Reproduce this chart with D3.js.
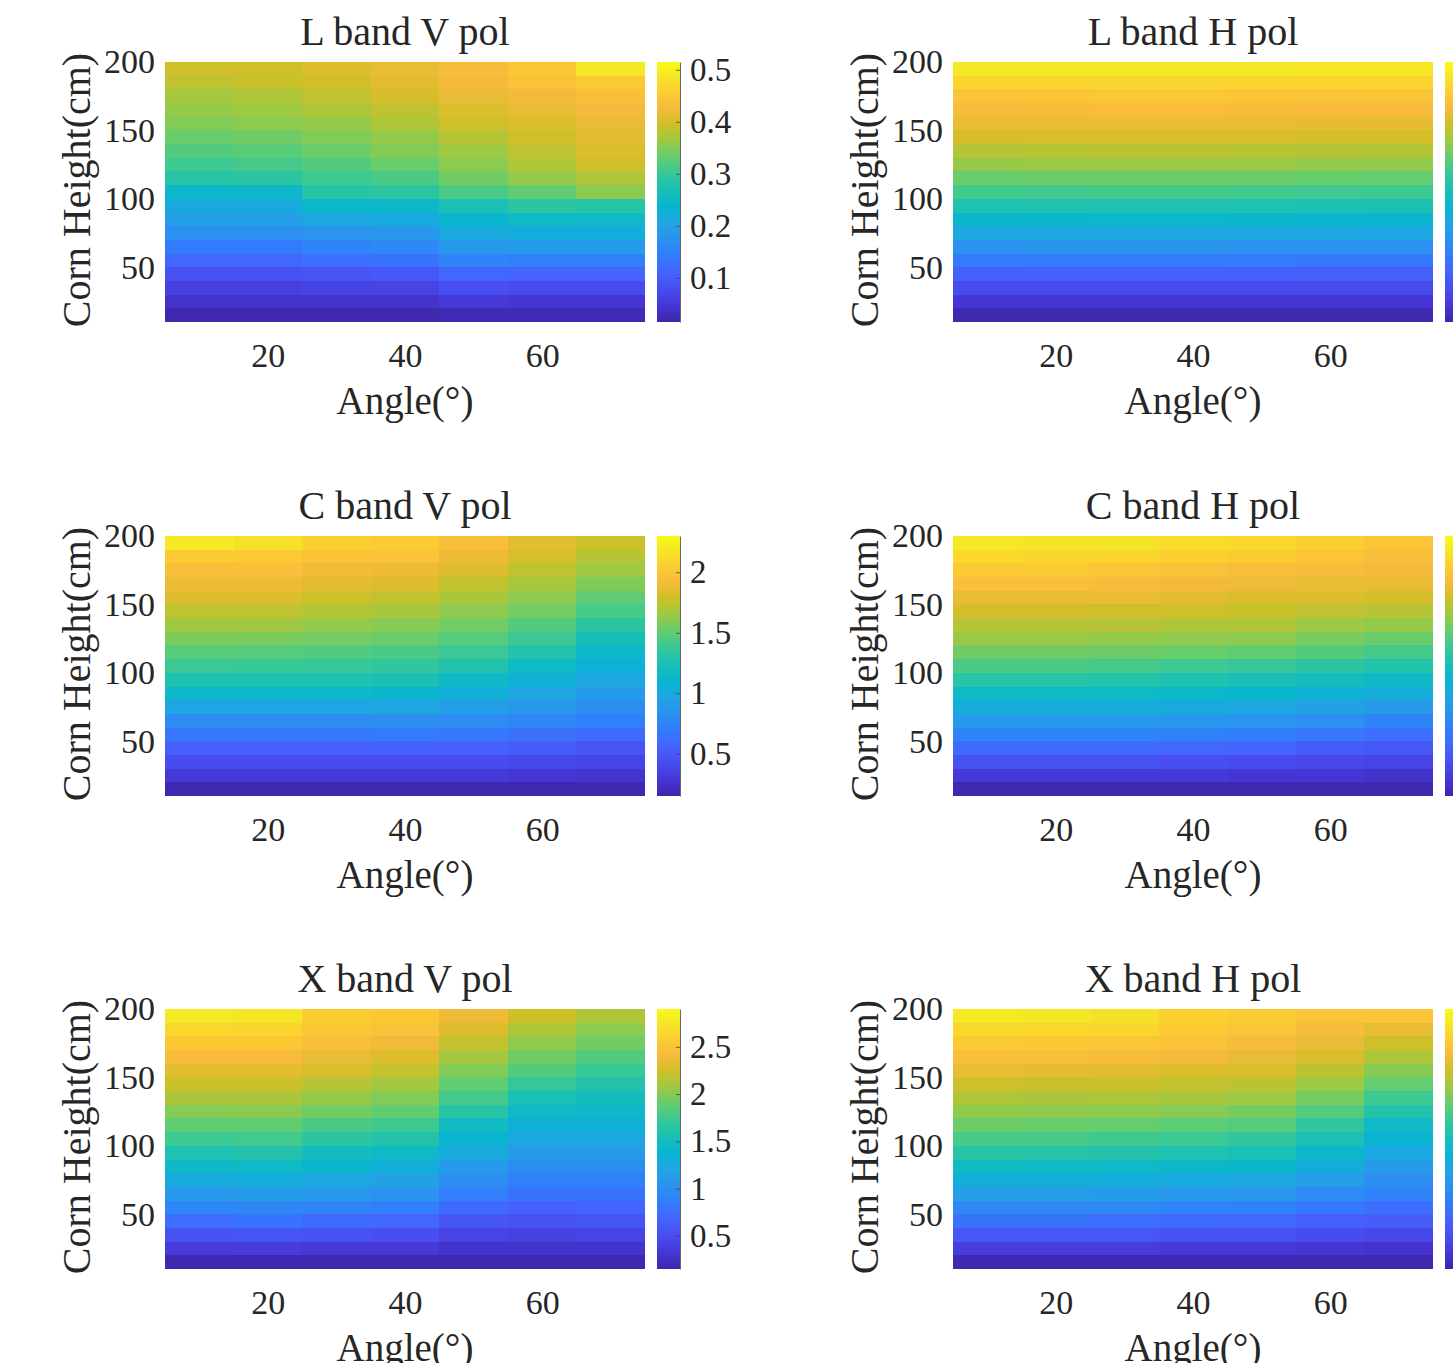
<!DOCTYPE html>
<html>
<head>
<meta charset="utf-8">
<script src="https://cdn.jsdelivr.net/npm/d3@7"></script>
<style>
  body { margin: 0; background: #ffffff; }
  svg { display: block; }
  text { font-family: "Liberation Serif", "Times New Roman", serif; fill: #262626; }
</style>
</head>
<body>
<div id="chart"></div>
<script>
// grid of the simulations
const angles = [10, 20, 30, 40, 50, 60, 70];
const heights = [15, 25, 35, 45, 55, 65, 75, 85, 95, 105, 115, 125, 135, 145, 155, 165, 175, 185, 195];

// one inner array per angle, values listed from 15 cm up to 195 cm
const lbandV = [
  [0.02, 0.04, 0.06, 0.085, 0.115, 0.14, 0.17, 0.195, 0.215, 0.245, 0.285, 0.305, 0.32, 0.335, 0.35, 0.36, 0.37, 0.385, 0.395],
  [0.02, 0.04, 0.06, 0.085, 0.115, 0.14, 0.17, 0.195, 0.215, 0.245, 0.29, 0.31, 0.325, 0.34, 0.355, 0.365, 0.375, 0.39, 0.395],
  [0.02, 0.04, 0.065, 0.09, 0.125, 0.155, 0.18, 0.21, 0.245, 0.285, 0.305, 0.32, 0.335, 0.35, 0.36, 0.375, 0.385, 0.395, 0.405],
  [0.02, 0.04, 0.065, 0.095, 0.13, 0.16, 0.185, 0.215, 0.245, 0.29, 0.315, 0.335, 0.35, 0.36, 0.375, 0.385, 0.4, 0.41, 0.415],
  [0.025, 0.05, 0.08, 0.115, 0.155, 0.185, 0.215, 0.24, 0.27, 0.315, 0.34, 0.355, 0.365, 0.38, 0.395, 0.405, 0.415, 0.425, 0.43],
  [0.025, 0.045, 0.075, 0.11, 0.15, 0.19, 0.22, 0.25, 0.29, 0.33, 0.36, 0.375, 0.385, 0.395, 0.405, 0.415, 0.425, 0.44, 0.445],
  [0.025, 0.045, 0.075, 0.11, 0.15, 0.19, 0.22, 0.25, 0.285, 0.355, 0.375, 0.395, 0.405, 0.41, 0.415, 0.425, 0.435, 0.45, 0.49]
];
const lbandH = [
  [0.024, 0.044, 0.068, 0.092, 0.12, 0.148, 0.176, 0.2, 0.228, 0.254, 0.276, 0.296, 0.312, 0.328, 0.34, 0.352, 0.364, 0.38, 0.4],
  [0.024, 0.044, 0.068, 0.093, 0.121, 0.149, 0.177, 0.201, 0.229, 0.255, 0.277, 0.297, 0.313, 0.329, 0.341, 0.353, 0.365, 0.38, 0.4],
  [0.024, 0.044, 0.068, 0.093, 0.121, 0.149, 0.177, 0.202, 0.229, 0.256, 0.278, 0.298, 0.314, 0.33, 0.342, 0.354, 0.366, 0.381, 0.4],
  [0.024, 0.044, 0.068, 0.093, 0.121, 0.149, 0.177, 0.202, 0.229, 0.256, 0.278, 0.298, 0.314, 0.33, 0.342, 0.354, 0.366, 0.381, 0.4],
  [0.024, 0.044, 0.068, 0.092, 0.12, 0.148, 0.176, 0.201, 0.228, 0.255, 0.277, 0.297, 0.313, 0.329, 0.341, 0.353, 0.365, 0.38, 0.4],
  [0.024, 0.044, 0.067, 0.091, 0.119, 0.147, 0.175, 0.2, 0.227, 0.253, 0.275, 0.295, 0.311, 0.327, 0.339, 0.351, 0.363, 0.379, 0.399],
  [0.024, 0.044, 0.067, 0.091, 0.118, 0.146, 0.174, 0.199, 0.226, 0.252, 0.274, 0.294, 0.31, 0.326, 0.338, 0.35, 0.362, 0.378, 0.398]
];
const cbandV = [
  [0.17, 0.3, 0.41, 0.54, 0.67, 0.8, 0.97, 1.14, 1.27, 1.39, 1.48, 1.58, 1.66, 1.74, 1.83, 1.89, 1.96, 2.04, 2.19],
  [0.17, 0.3, 0.41, 0.54, 0.67, 0.8, 0.97, 1.14, 1.27, 1.38, 1.47, 1.57, 1.66, 1.74, 1.83, 1.89, 1.96, 2.02, 2.15],
  [0.17, 0.3, 0.41, 0.54, 0.67, 0.8, 0.97, 1.14, 1.27, 1.38, 1.46, 1.55, 1.63, 1.71, 1.78, 1.85, 1.91, 1.98, 2.06],
  [0.17, 0.3, 0.41, 0.54, 0.69, 0.82, 0.97, 1.12, 1.25, 1.35, 1.44, 1.53, 1.6, 1.68, 1.75, 1.83, 1.89, 1.98, 2.04],
  [0.17, 0.3, 0.41, 0.54, 0.67, 0.8, 0.92, 1.05, 1.16, 1.29, 1.39, 1.47, 1.55, 1.61, 1.68, 1.75, 1.83, 1.89, 1.96],
  [0.17, 0.28, 0.39, 0.52, 0.64, 0.77, 0.88, 0.97, 1.07, 1.16, 1.29, 1.39, 1.46, 1.55, 1.61, 1.68, 1.74, 1.81, 1.85],
  [0.17, 0.26, 0.365, 0.47, 0.6, 0.73, 0.82, 0.9, 0.99, 1.07, 1.14, 1.23, 1.33, 1.43, 1.5, 1.58, 1.66, 1.72, 1.78]
];
const cbandH = [
  [0.12, 0.24, 0.38, 0.52, 0.66, 0.8, 0.92, 1.04, 1.18, 1.3, 1.4, 1.49, 1.56, 1.64, 1.7, 1.78, 1.84, 1.92, 2.0],
  [0.12, 0.24, 0.38, 0.52, 0.66, 0.8, 0.92, 1.04, 1.18, 1.3, 1.4, 1.49, 1.56, 1.64, 1.7, 1.78, 1.84, 1.91, 1.98],
  [0.12, 0.24, 0.38, 0.52, 0.66, 0.8, 0.92, 1.04, 1.16, 1.28, 1.39, 1.48, 1.56, 1.62, 1.7, 1.76, 1.82, 1.9, 1.98],
  [0.12, 0.24, 0.36, 0.5, 0.64, 0.78, 0.9, 1.02, 1.14, 1.26, 1.38, 1.47, 1.54, 1.62, 1.68, 1.74, 1.8, 1.88, 1.94],
  [0.12, 0.22, 0.34, 0.48, 0.62, 0.76, 0.88, 1.0, 1.12, 1.24, 1.36, 1.46, 1.54, 1.6, 1.66, 1.72, 1.78, 1.86, 1.92],
  [0.12, 0.22, 0.32, 0.44, 0.58, 0.72, 0.84, 0.96, 1.08, 1.2, 1.32, 1.42, 1.5, 1.58, 1.66, 1.7, 1.76, 1.82, 1.88],
  [0.12, 0.2, 0.3, 0.42, 0.54, 0.66, 0.8, 0.92, 1.04, 1.16, 1.28, 1.38, 1.48, 1.56, 1.64, 1.7, 1.74, 1.78, 1.82]
];
const xbandV = [
  [0.18, 0.36, 0.54, 0.75, 0.93, 1.09, 1.25, 1.42, 1.58, 1.74, 1.88, 2.0, 2.12, 2.23, 2.32, 2.43, 2.54, 2.65, 2.76],
  [0.18, 0.37, 0.56, 0.78, 0.95, 1.11, 1.28, 1.44, 1.61, 1.76, 1.88, 2.01, 2.12, 2.23, 2.32, 2.43, 2.54, 2.63, 2.74],
  [0.18, 0.34, 0.54, 0.73, 0.92, 1.09, 1.22, 1.39, 1.5, 1.66, 1.8, 1.94, 2.05, 2.16, 2.27, 2.35, 2.46, 2.52, 2.57],
  [0.18, 0.34, 0.51, 0.7, 0.87, 1.03, 1.17, 1.31, 1.44, 1.61, 1.75, 1.88, 1.99, 2.1, 2.2, 2.3, 2.38, 2.49, 2.54],
  [0.18, 0.29, 0.43, 0.56, 0.73, 0.87, 1.0, 1.11, 1.25, 1.36, 1.47, 1.64, 1.77, 1.88, 1.99, 2.1, 2.2, 2.3, 2.38],
  [0.18, 0.29, 0.4, 0.54, 0.65, 0.78, 0.89, 1.0, 1.11, 1.22, 1.33, 1.44, 1.55, 1.7, 1.83, 1.94, 2.03, 2.13, 2.24],
  [0.18, 0.29, 0.43, 0.56, 0.67, 0.78, 0.89, 1.0, 1.11, 1.22, 1.33, 1.42, 1.5, 1.61, 1.72, 1.83, 1.94, 2.02, 2.13]
];
const xbandH = [
  [0.13, 0.3, 0.48, 0.68, 0.83, 1.0, 1.15, 1.29, 1.45, 1.59, 1.71, 1.81, 1.9, 2.0, 2.1, 2.2, 2.28, 2.38, 2.48],
  [0.13, 0.3, 0.48, 0.68, 0.83, 1.0, 1.15, 1.29, 1.44, 1.58, 1.7, 1.8, 1.89, 1.99, 2.09, 2.19, 2.27, 2.37, 2.47],
  [0.13, 0.3, 0.48, 0.65, 0.83, 0.98, 1.13, 1.28, 1.43, 1.56, 1.69, 1.8, 1.9, 1.98, 2.08, 2.18, 2.25, 2.35, 2.43],
  [0.13, 0.28, 0.45, 0.63, 0.8, 0.95, 1.1, 1.25, 1.4, 1.54, 1.66, 1.78, 1.88, 1.96, 2.05, 2.15, 2.23, 2.28, 2.33],
  [0.13, 0.28, 0.45, 0.6, 0.78, 0.93, 1.08, 1.23, 1.38, 1.5, 1.63, 1.74, 1.85, 1.94, 2.03, 2.1, 2.18, 2.25, 2.3],
  [0.13, 0.25, 0.4, 0.55, 0.7, 0.85, 1.0, 1.13, 1.25, 1.38, 1.5, 1.63, 1.74, 1.85, 1.94, 2.03, 2.1, 2.18, 2.25],
  [0.13, 0.23, 0.38, 0.53, 0.65, 0.78, 0.88, 0.98, 1.08, 1.2, 1.28, 1.43, 1.55, 1.68, 1.79, 1.9, 2.0, 2.1, 2.23]
];

// colour limits and colorbar ticks of each panel
const lbandVRange = [0.015, 0.515], lbandVTicks = [0.1, 0.2, 0.3, 0.4, 0.5];
const lbandHRange = [0.02, 0.42],   lbandHTicks = [0.1, 0.2, 0.3, 0.4];
const cbandVRange = [0.15, 2.3],    cbandVTicks = [0.5, 1, 1.5, 2];
const cbandHRange = [0.1, 2.1],     cbandHTicks = [0.5, 1, 1.5, 2];
const xbandVRange = [0.15, 2.9],    xbandVTicks = [0.5, 1, 1.5, 2, 2.5];
const xbandHRange = [0.1, 2.6],     xbandHTicks = [0.5, 1, 1.5, 2, 2.5];

const xTicks = [20, 40, 60];
const yTicks = [50, 100, 150, 200];

const panels = [
  { title: "L band V pol", data: lbandV, range: lbandVRange, ticks: lbandVTicks },
  { title: "L band H pol", data: lbandH, range: lbandHRange, ticks: lbandHTicks },
  { title: "C band V pol", data: cbandV, range: cbandVRange, ticks: cbandVTicks },
  { title: "C band H pol", data: cbandH, range: cbandHRange, ticks: cbandHTicks },
  { title: "X band V pol", data: xbandV, range: xbandVRange, ticks: xbandVTicks },
  { title: "X band H pol", data: xbandH, range: xbandHRange, ticks: xbandHTicks }
];

// parula colormap (every 4th entry of the 64 colour table)
const parulaIdx = [0, 4, 8, 12, 16, 20, 24, 28, 32, 36, 40, 44, 48, 52, 56, 60, 63];
const parulaColors = ["#3e26a8", "#4537d5", "#484df0", "#4563fd", "#327cfc", "#2b91ef", "#20a5e3", "#08b5d0",
  "#19bfb6", "#37c897", "#64cd6f", "#9dc943", "#d1bf27", "#f8ba3d", "#fccf30", "#f5e924", "#f9fb15"];
const parulaPos = parulaIdx.map((i) => i / 63);
const parula = d3.scaleLinear().domain(parulaPos).range(parulaColors).interpolate(d3.interpolateRgb).clamp(true);

const W = 1453, H = 1363;
const colX = [165, 953], rowY = [62, 536, 1009];
const pw = 480, ph = 260;
const font = "'Liberation Serif', 'Times New Roman', serif";

const svg = d3.select("#chart").append("svg").attr("width", W).attr("height", H);

const grad = svg.append("defs").append("linearGradient")
  .attr("id", "parula-grad")
  .attr("x1", 0).attr("y1", 1).attr("x2", 0).attr("y2", 0);
parulaPos.forEach((p, i) => grad.append("stop").attr("offset", p).attr("stop-color", parulaColors[i]));

// axis text in Times-like serif
function serifTicks(a, size) {
  a.selectAll("text")
    .style("font-family", font)
    .style("font-size", size + "px")
    .style("fill", "#262626");
}

panels.forEach((p, k) => {
  const x0 = colX[k % 2], y0 = rowY[Math.floor(k / 2)];
  const x = d3.scaleLinear().domain([5, 75]).range([x0, x0 + pw]);
  const y = d3.scaleLinear().domain([10, 200]).range([y0 + ph, y0]);
  const norm = d3.scaleLinear().domain(p.range).range([0, 1]).clamp(true);

  const cells = p.data.flatMap((col, i) => col.map((v, j) => ({ a: angles[i], h: heights[j], v })));

  const g = svg.append("g");

  // heatmap cells
  g.append("g")
    .attr("shape-rendering", "crispEdges")
    .selectAll("rect")
    .data(cells)
    .join("rect")
    .attr("x", (d) => x(d.a - 5))
    .attr("y", (d) => y(d.h + 5))
    .attr("width", (d) => x(d.a + 5) - x(d.a - 5))
    .attr("height", (d) => y(d.h - 5) - y(d.h + 5))
    .attr("fill", (d) => parula(norm(d.v)));

  // x axis (labels only)
  g.append("g")
    .attr("transform", `translate(0,${y0 + ph})`)
    .call(d3.axisBottom(x).tickValues(xTicks).tickSize(0).tickPadding(21))
    .call((a) => a.select(".domain").remove())
    .call((a) => serifTicks(a, 34));

  // y axis (labels only)
  g.append("g")
    .attr("transform", `translate(${x0},0)`)
    .call(d3.axisLeft(y).tickValues(yTicks).tickSize(0).tickPadding(10))
    .call((a) => a.select(".domain").remove())
    .call((a) => serifTicks(a, 34));

  // title
  g.append("text")
    .attr("x", x0 + pw / 2).attr("y", y0 - 17)
    .attr("text-anchor", "middle").attr("font-size", 40)
    .text(p.title);

  // axis labels
  g.append("text")
    .attr("x", x0 + pw / 2).attr("y", y0 + 352)
    .attr("text-anchor", "middle").attr("font-size", 39)
    .text("Angle(°)");

  g.append("text")
    .attr("transform", `translate(${x0 - 75},${y0 + 128}) rotate(-90)`)
    .attr("text-anchor", "middle").attr("font-size", 40)
    .text("Corn Height(cm)");

  // colorbar
  const cbx = x0 + 492, cbw = 23;
  const cy = d3.scaleLinear().domain(p.range).range([y0 + ph, y0]);
  g.append("rect")
    .attr("x", cbx).attr("y", y0)
    .attr("width", cbw).attr("height", ph)
    .attr("fill", "url(#parula-grad)");

  // the right-hand colorbars run past the page edge, so only their bar shows
  if (cbx + cbw + 60 < W) {
    const cbAxis = g.append("g")
      .attr("transform", `translate(${cbx + cbw},0)`)
      .call(d3.axisRight(cy).tickValues(p.ticks).tickSizeInner(-4).tickSizeOuter(0).tickPadding(10).tickFormat(d3.format("~g")))
      .call((a) => serifTicks(a, 33));
    cbAxis.selectAll("line, path").attr("stroke", "#444").attr("stroke-width", 0.8);
  }
});
</script>
</body>
</html>
